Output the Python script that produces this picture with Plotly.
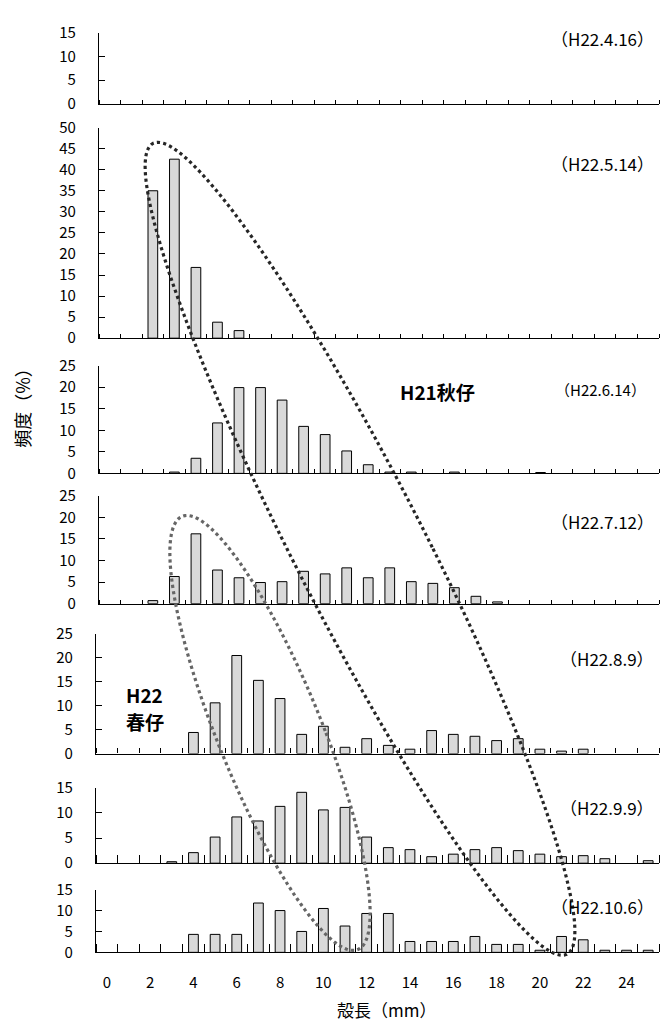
import math
import plotly.graph_objects as go

W, H = 664, 1026
FONT = "Noto Sans CJK JP"

# ---------------- data ----------------
categories = list(range(26))          # shell length classes (mm)
x_tick_labels = ["0", "2", "4", "6", "8", "10", "12", "14", "16", "18", "20", "22", "24"]
x_tick_vals = [0, 2, 4, 6, 8, 10, 12, 14, 16, 18, 20, 22, 24]

dates = ["（H22.4.16）", "（H22.5.14）", "（H22.6.14）", "（H22.7.12）",
         "（H22.8.9）", "（H22.9.9）", "（H22.10.6）"]

h22_04_16 = [None, None, None, None, None, None, None, None, None, None, None, None, None,
             None, None, None, None, None, None, None, None, None, None, None, None, None]
h22_05_14 = [None, None, 35.0, 42.5, 16.8, 3.8, 1.8, None, None, None, None, None, None,
             None, None, None, None, None, None, None, None, None, None, None, None, None]
h22_06_14 = [None, None, None, 0.3, 3.5, 11.7, 19.9, 19.9, 17.0, 10.9, 9.0, 5.2, 2.0,
             0.3, 0.3, None, 0.3, None, None, None, 0.2, None, None, None, None, None]
h22_07_12 = [None, None, 0.7, 6.3, 16.2, 7.8, 6.0, 4.9, 5.1, 7.5, 6.9, 8.3, 6.0,
             8.3, 5.1, 4.7, 3.7, 1.7, 0.4, None, None, None, None, None, None, None]
h22_08_09 = [None, None, None, None, 4.4, 10.6, 20.5, 15.3, 11.5, 4.0, 5.7, 1.3, 3.1,
             1.7, 0.9, 4.8, 4.0, 3.6, 2.7, 3.1, 0.9, 0.5, 0.9, None, None, None]
h22_09_09 = [None, None, None, 0.3, 2.1, 5.2, 9.2, 8.4, 11.3, 14.1, 10.6, 11.1, 5.2,
             3.1, 2.7, 1.3, 1.8, 2.7, 3.1, 2.5, 1.8, 1.3, 1.5, 0.9, None, 0.5]
h22_10_06 = [None, None, None, None, 4.3, 4.3, 4.3, 11.8, 10.0, 5.0, 10.5, 6.3, 9.3,
             9.3, 2.6, 2.6, 2.6, 3.8, 1.9, 1.9, 0.5, 3.8, 3.0, 0.5, 0.5, 0.5]

series = [h22_04_16, h22_05_14, h22_06_14, h22_07_12, h22_08_09, h22_09_09, h22_10_06]
y_max = [15, 50, 25, 25, 25, 15, 15]

# ---------------- layout geometry (pixels) ----------------
panel_px = [(21, 94), (118, 333), (361, 471), (494, 604), (635, 757), (792, 869), (896, 960)]
x_left_px = [99, 99, 99, 99, 96, 96, 96]
x_right_px = 659
x_ticklen = [4, 4, 4, 4, 5, 8, 8]
date_pos = [(656, 27, 17), (656, 155, 17), (648, 385, 15), (656, 520, 17),
            (656, 660, 17), (656, 812, 17), (656, 913, 17)]


def px(x, y):
    return x / W, 1 - y / H


fig = go.Figure()
layout = {}
for i, vals in enumerate(series):
    sfx = "" if i == 0 else str(i + 1)
    xa, ya = "x" + sfx, "y" + sfx
    fig.add_trace(go.Bar(
        x=categories, y=vals, xaxis=xa, yaxis=ya, width=0.45,
        marker=dict(color="#d9d9d9", line=dict(color="black", width=1)),
        showlegend=False, hoverinfo="skip"))
    top, bot = panel_px[i]
    layout["xaxis" + sfx] = dict(
        domain=[x_left_px[i] / W, x_right_px / W], anchor=ya,
        range=[-0.5, 25.5], showgrid=False, zeroline=False,
        showline=True, linecolor="black", linewidth=1.2,
        tickmode="array", tickvals=x_tick_vals, ticktext=x_tick_labels,
        ticks="", showticklabels=(i == len(series) - 1),
        ticklabelstandoff=17,
        tickfont=dict(family=FONT, size=15, color="black"),
        minor=dict(ticks="inside", ticklen=x_ticklen[i], tickcolor="black",
                   tickwidth=1, tickmode="linear", tick0=-0.5, dtick=1, showgrid=False),
    )
    layout["yaxis" + sfx] = dict(
        domain=[1 - bot / H, 1 - top / H], anchor=xa,
        range=[0, y_max[i]], tickmode="linear", tick0=0, dtick=5,
        ticks="inside", ticklen=6, tickcolor="black", tickwidth=1,
        showline=True, linecolor="black", linewidth=1.2,
        showgrid=False, zeroline=False, ticklabelstandoff=19,
        tickfont=dict(family=FONT, size=15, color="black"),
    )

annotations = []
for (xr, yc, fs), d in zip(date_pos, dates):
    ax, ay = px(xr, yc)
    annotations.append(dict(text=d, x=ax, y=ay, xref="paper", yref="paper",
                            xanchor="right", yanchor="middle", showarrow=False,
                            font=dict(family=FONT, size=fs, color="black")))

label_texts = ["<b>H21秋仔</b>", "<b>H22</b>", "<b>春仔</b>"]
label_pos = [(437, 387, "center"), (124, 697, "left"), (124, 724, "left")]
for t, (lx, ly, anc) in zip(label_texts, label_pos):
    ax, ay = px(lx, ly)
    annotations.append(dict(text=t, x=ax, y=ay, xref="paper", yref="paper",
                            xanchor=anc, yanchor="middle", showarrow=False,
                            font=dict(family=FONT, size=19, color="black")))

ax, ay = px(386, 1018)
annotations.append(dict(text="殻長（mm）", x=ax, y=ay, xref="paper", yref="paper",
                        xanchor="center", yanchor="middle", showarrow=False,
                        font=dict(family=FONT, size=17, color="black")))
ax, ay = px(22, 400)
annotations.append(dict(text="頻度（%）", x=ax, y=ay, xref="paper", yref="paper",
                        xanchor="center", yanchor="middle", showarrow=False, textangle=-90,
                        font=dict(family=FONT, size=18, color="black")))


def sheared_ellipse(cx, cy, half_w, half_h, shear, n=180):
    pts = []
    for k in range(n + 1):
        t = 2 * math.pi * k / n
        y = cy + half_h * math.sin(t)
        x = cx + shear * half_h * math.sin(t) + half_w * math.cos(t)
        pts.append(px(x, y))
    return "M " + " L ".join(f"{a:.5f},{b:.5f}" for a, b in pts) + " Z"


shapes = [
    dict(type="path", xref="paper", yref="paper",
         path=sheared_ellipse(360, 548, 73, 415, 0.487),
         line=dict(color="#262626", width=3.2, dash="dot")),
    dict(type="path", xref="paper", yref="paper",
         path=sheared_ellipse(270, 736, 56, 222, 0.374),
         line=dict(color="#666666", width=3.2, dash="dot")),
]

fig.update_layout(
    width=W, height=H, margin=dict(l=0, r=0, t=0, b=0),
    paper_bgcolor="white", plot_bgcolor="rgba(0,0,0,0)",
    bargap=0.55, annotations=annotations, shapes=shapes,
    font=dict(family=FONT, color="black"),
    **layout,
)

fig.write_html("out.html")
